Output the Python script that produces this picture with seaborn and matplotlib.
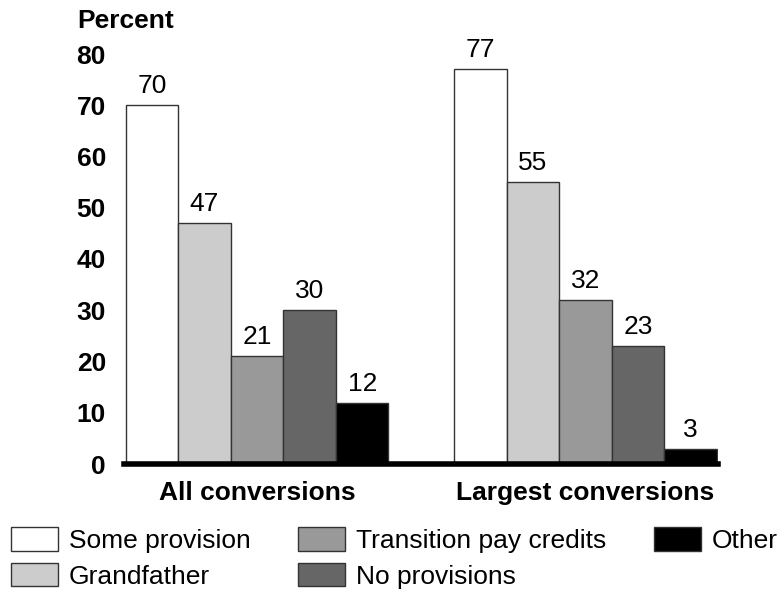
import matplotlib
matplotlib.use("Agg")
import matplotlib.pyplot as plt
import seaborn as sns
import pandas as pd

groups = ["All conversions", "Largest conversions"]
categories = ["Some provision", "Grandfather", "Transition pay credits", "No provisions", "Other"]
all_conv = [70, 47, 21, 30, 12]
largest_conv = [77, 55, 32, 23, 3]
colors = ["#ffffff", "#cccccc", "#999999", "#666666", "#000000"]
yticks = [0, 10, 20, 30, 40, 50, 60, 70, 80]

rows = []
for g, vals in zip(groups, [all_conv, largest_conv]):
    for c, v in zip(categories, vals):
        rows.append({"group": g, "category": c, "value": v})
df = pd.DataFrame(rows)

sns.set_style("white")
plt.rcParams["font.family"] = ["Liberation Sans", "DejaVu Sans"]
plt.rcParams["text.color"] = "black"
plt.rcParams["xtick.color"] = "black"
plt.rcParams["ytick.color"] = "black"
plt.rcParams["axes.labelcolor"] = "black"

FS = 19

fig = plt.figure(figsize=(7.84, 5.92), dpi=100)
ax = fig.add_axes([124/784, 1-464/592, (718-124)/784, (464-54)/592])

sns.barplot(data=df, x="group", y="value", hue="category", hue_order=categories,
            palette=colors, edgecolor="#333333", linewidth=1.0, width=0.8,
            saturation=1, ax=ax, errorbar=None)

for cont in ax.containers:
    ax.bar_label(cont, fmt="%d", padding=5, fontsize=FS, color="black")

ax.set_ylim(0, 80)
ax.set_xlim(-0.405, 1.403)
ax.set_yticks(yticks)
ax.set_yticklabels([str(t) for t in yticks], fontsize=FS, fontweight="bold")
ax.set_xticks([0, 1])
ax.set_xticklabels(groups, fontsize=FS, fontweight="bold")
ax.tick_params(axis="y", length=0, pad=13, labelcolor="black")
ax.tick_params(axis="x", length=0, pad=12, labelcolor="black")
ax.set_xlabel("")
ax.set_ylabel("")
for s in ["left", "right", "top"]:
    ax.spines[s].set_visible(False)
ax.spines["bottom"].set_linewidth(4)
ax.spines["bottom"].set_color("black")

fig.text(77/784, 1-9/592, "Percent", fontsize=FS, fontweight="bold", va="top", ha="left", color="black")

handles, labels = ax.get_legend_handles_labels()
ax.get_legend().remove()
leg = fig.legend(handles, labels, ncol=3, frameon=False, loc="upper left",
                 bbox_to_anchor=(11/784, 1-527/592), fontsize=FS,
                 handlelength=1.78, handleheight=1.0, handletextpad=0.42,
                 columnspacing=1.8, labelspacing=0.38, borderaxespad=0, borderpad=0)
for t in leg.get_texts():
    t.set_color("black")

fig.savefig("out.png", dpi=100)
